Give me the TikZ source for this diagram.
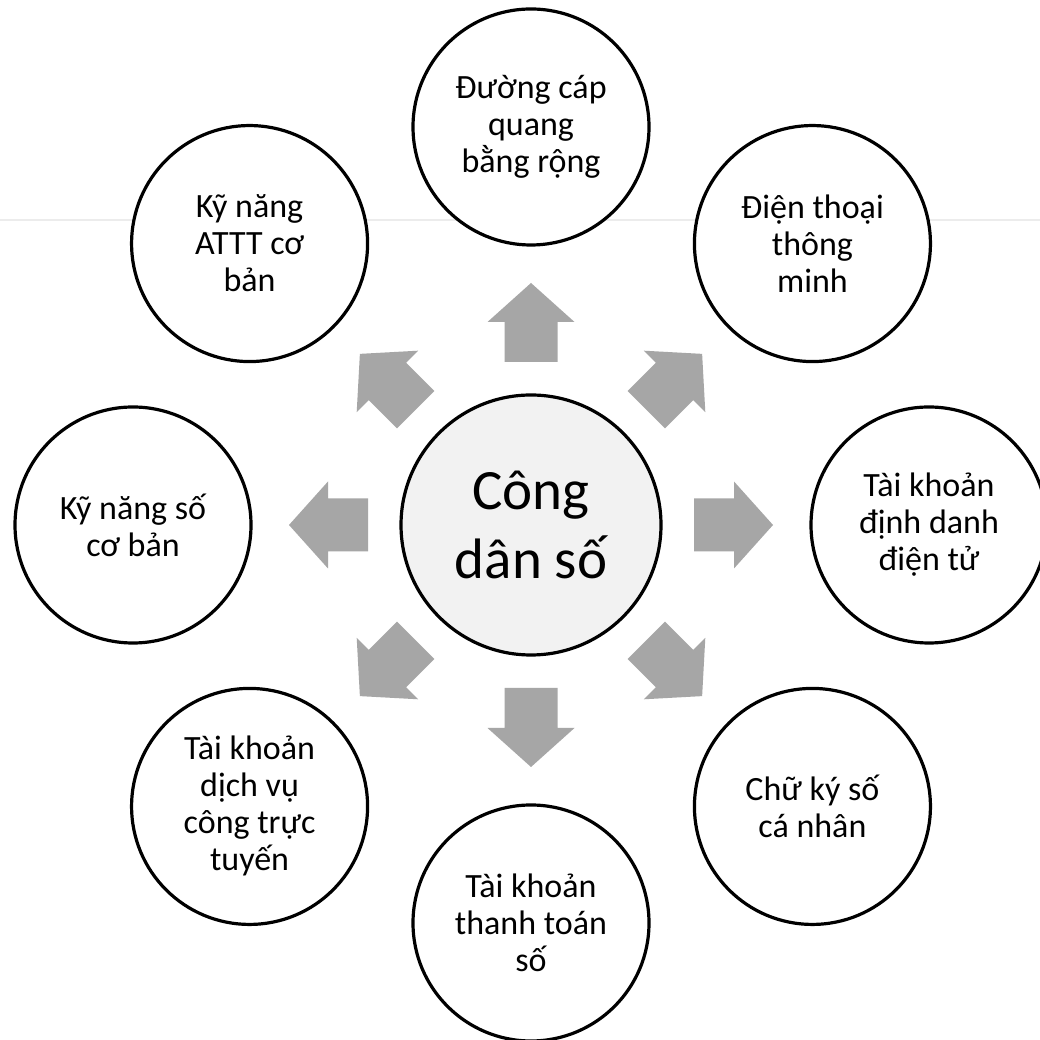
\documentclass[tikz,border=0pt]{standalone}
\usepackage{fontspec}
\setmainfont{Carlito}
\usetikzlibrary{calc}
\definecolor{arrowgray}{HTML}{A6A6A6}
\definecolor{hubfill}{HTML}{F2F2F2}
\definecolor{faintline}{HTML}{ECECEC}
\tikzset{
  outer/.style={circle, draw=black, line width=3.2pt, fill=white, minimum size=236pt, inner sep=0pt,
    align=center, font=\fontsize{34}{37}\selectfont},
  hub/.style={circle, draw=black, line width=3.2pt, fill=hubfill, minimum size=260pt, inner sep=0pt,
    align=center, font=\fontsize{57}{69}\selectfont},
  blockarrow/.pic={\fill[arrowgray] (163,-26.5) -- (203,-26.5) -- (203,-43.5) -- (242,0) -- (203,43.5) -- (203,26.5) -- (163,26.5) -- cycle;}
}
\begin{document}
\begin{tikzpicture}[x=1pt,y=1pt]
\useasboundingbox (0,0) rectangle (1040,1040);
\fill[white] (0,0) rectangle (1040,1040);
\coordinate (fl) at (0,820);
\coordinate (fr) at (1040,820);
\draw[faintline, line width=1.5pt] (fl) -- (fr);
\node[hub] (c) at (531,515) {Công\\dân số};
\foreach \a in {0,45,...,315} {
  \path (c) pic[rotate=\a] {blockarrow};
}
\node[outer] (n) at ($(c)+(90:398)$) {Đường cáp\\quang\\bằng rộng};
\node[outer] (ne) at ($(c)+(45:398)$) {Điện thoại\\thông\\minh};
\node[outer] (e) at ($(c)+(0:398)$) {Tài khoản\\định danh\\điện tử};
\node[outer] (se) at ($(c)+(-45:398)$) {Chữ ký số\\cá nhân};
\node[outer] (s) at ($(c)+(-90:398)$) {Tài khoản\\thanh toán\\số};
\node[outer] (sw) at ($(c)+(-135:398)$) {Tài khoản\\dịch vụ\\công trực\\tuyến};
\node[outer] (w) at ($(c)+(180:398)$) {Kỹ năng số\\cơ bản};
\node[outer] (nw) at ($(c)+(135:398)$) {Kỹ năng\\ATTT cơ\\bản};
\end{tikzpicture}
\end{document}
